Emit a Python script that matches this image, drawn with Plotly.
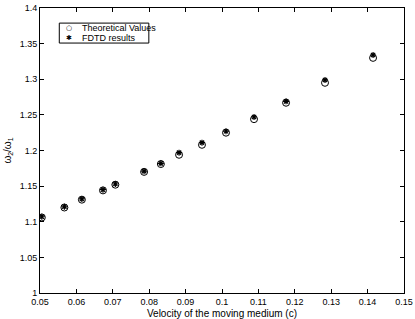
import plotly.graph_objects as go

velocity = [0.0505, 0.0567, 0.0615, 0.0673, 0.0707, 0.0786, 0.0832, 0.0882, 0.0945, 0.1011, 0.1088, 0.1176, 0.1283, 0.1415]
theoretical = [1.106, 1.120, 1.131, 1.144, 1.152, 1.170, 1.181, 1.194, 1.208, 1.225, 1.244, 1.267, 1.295, 1.330]
fdtd = [1.107, 1.121, 1.132, 1.145, 1.153, 1.171, 1.182, 1.197, 1.211, 1.227, 1.247, 1.269, 1.299, 1.334]

series_names = ["Theoretical Values", "FDTD results"]

x_ticks = [0.05, 0.06, 0.07, 0.08, 0.09, 0.1, 0.11, 0.12, 0.13, 0.14, 0.15]
x_tick_labels = ["0.05", "0.06", "0.07", "0.08", "0.09", "0.1", "0.11", "0.12", "0.13", "0.14", "0.15"]
y_ticks = [1, 1.05, 1.1, 1.15, 1.2, 1.25, 1.3, 1.35, 1.4]
y_tick_labels = ["1", "1.05", "1.1", "1.15", "1.2", "1.25", "1.3", "1.35", "1.4"]

FONT = "Liberation Sans, Arial, sans-serif"

fig = go.Figure()
fig.add_trace(go.Scatter(
    x=velocity, y=theoretical, mode="markers", name=series_names[0], showlegend=False,
    marker=dict(symbol="circle-open", size=7, color="black", line=dict(width=1, color="black")),
))
fig.add_trace(go.Scatter(
    x=velocity, y=fdtd, mode="markers", name=series_names[1], showlegend=False,
    marker=dict(symbol="asterisk-open", size=5, color="black", line=dict(width=1.2, color="black")),
))

axis_common = dict(
    showline=True, linecolor="black", linewidth=1, mirror="allticks",
    ticks="inside", ticklen=4, tickcolor="black", tickwidth=1,
    showgrid=False, zeroline=False, ticklabeloverflow="allow", automargin=False,
    tickfont=dict(family=FONT, size=9, color="black"),
)

# Manual compact legend (box + symbols + labels), in paper coordinates
legend_shapes = [dict(type="rect", xref="paper", yref="paper",
                      x0=0.053, x1=0.299, y0=0.877, y1=0.947,
                      line=dict(color="black", width=1), fillcolor="white", layer="above")]
legend_rows_y = [0.929, 0.894]
legend_symbols = ["○", "✱"]
legend_annotations = []
for name, sym, yy in zip(series_names, legend_symbols, legend_rows_y):
    legend_annotations.append(dict(xref="paper", yref="paper", x=0.080, y=yy, text=sym,
                                   showarrow=False, xanchor="center", yanchor="middle",
                                   font=dict(family="DejaVu Sans", size=7, color="black")))
    legend_annotations.append(dict(xref="paper", yref="paper", x=0.110, y=yy, text=name,
                                   showarrow=False, xanchor="left", yanchor="middle",
                                   font=dict(family=FONT, size=9, color="black")))

fig.update_layout(
    width=415, height=319,
    margin=dict(l=40, r=11, t=8, b=26),
    paper_bgcolor="white", plot_bgcolor="white",
    font=dict(family=FONT, size=9, color="black"),
    xaxis=dict(range=[0.05, 0.15], tickvals=x_ticks, ticktext=x_tick_labels,
               ticklabelstandoff=0,
               title=dict(text="Velocity of the moving medium (c)", standoff=6,
                          font=dict(size=10)), **axis_common),
    yaxis=dict(range=[1, 1.4], tickvals=y_ticks, ticktext=y_tick_labels,
               ticklabelstandoff=0,
               title=dict(text="ω<sub>2</sub>/ω<sub>1</sub>", standoff=6,
                          font=dict(size=10)), **axis_common),
    showlegend=False,
    shapes=legend_shapes,
    annotations=legend_annotations,
)

fig.write_html("out.html", config={"displayModeBar": False},
               post_script="document.body.style.margin='0';document.body.style.padding='0';")
